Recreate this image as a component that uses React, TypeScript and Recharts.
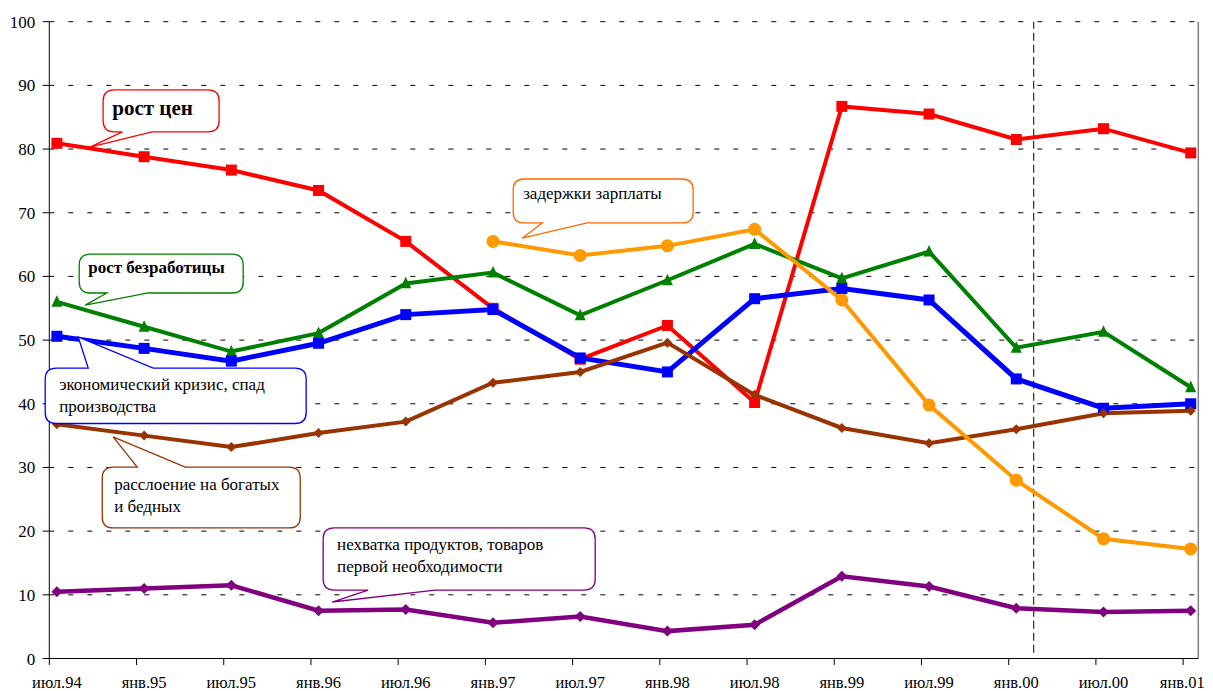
import React from 'react';
import { LineChart, Line, XAxis, YAxis, CartesianGrid, ReferenceLine } from 'recharts';

// ---------- data ----------
const periods = ['июл.94', 'янв.95', 'июл.95', 'янв.96', 'июл.96', 'янв.97', 'июл.97', 'янв.98', 'июл.98', 'янв.99', 'июл.99', 'янв.00', 'июл.00', 'янв.01'];
const priceGrowth = [80.9, 78.8, 76.7, 73.5, 65.5, 55.0, 47.0, 52.3, 40.2, 86.7, 85.5, 81.5, 83.2, 79.4];
const unemployment = [56.0, 52.1, 48.2, 51.1, 58.9, 60.6, 53.9, 59.4, 65.1, 59.7, 63.9, 48.8, 51.3, 42.6];
const crisis = [50.6, 48.7, 46.7, 49.5, 54.0, 54.8, 47.2, 45.0, 56.5, 58.1, 56.3, 43.9, 39.3, 40.0];
const inequality = [36.8, 35.0, 33.2, 35.4, 37.2, 43.3, 45.0, 49.6, 41.4, 36.2, 33.8, 36.0, 38.5, 38.9];
const wageArrears = [null, null, null, null, null, 65.5, 63.3, 64.8, 67.4, 56.3, 39.8, 28.0, 18.8, 17.2];
const shortage = [10.5, 11.0, 11.5, 7.5, 7.7, 5.6, 6.6, 4.3, 5.3, 12.9, 11.3, 7.9, 7.3, 7.5];
const yTicks = [0, 10, 20, 30, 40, 50, 60, 70, 80, 90, 100];
const markerLineX = 11.2;

const data = periods.map((p, i) => ({
  x: i,
  label: p,
  price: priceGrowth[i],
  unemp: unemployment[i],
  crisis: crisis[i],
  ineq: inequality[i],
  wage: wageArrears[i],
  short: shortage[i],
}));

// ---------- layout ----------
const W = 1197;
const H = 683;
const PAD = 0.087;
const M_TOP = 13.7;
const Y_AXIS_W = 41.3;
const X_AXIS_H = 32.5;
const M_RIGHT = 6.7;
const PLOT_W = W - Y_AXIS_W - M_RIGHT;
const PLOT_H = H - M_TOP - X_AXIS_H;
const UX = PLOT_W / (periods.length - 1 + 2 * PAD);
const UY = PLOT_H / 100;
const px = (xi: number) => Y_AXIS_W + (xi + PAD) * UX;
const py = (v: number) => M_TOP + (100 - v) * UY;

const FONT = "'Liberation Serif', Tinos, 'DejaVu Serif', 'Noto Serif', 'Times New Roman', serif";
const fontStyle = { fontFamily: FONT };

const RED = '#FF0000';
const GREEN = '#008000';
const BLUE = '#0000FF';
const BROWN = '#993300';
const ORANGE = '#FF9900';
const PURPLE = '#800080';

// ---------- markers ----------
const square = (color: string, s: number) => (props: any) => {
  const { cx, cy, index } = props;
  if (cx == null || cy == null) return <g key={index} />;
  return <rect key={index} x={cx - s / 2} y={cy - s / 2} width={s} height={s} fill={color} />;
};
const triangle = (color: string, s: number) => (props: any) => {
  const { cx, cy, index } = props;
  if (cx == null || cy == null) return <g key={index} />;
  return <polygon key={index} points={`${cx},${cy - s * 0.6} ${cx - s / 2},${cy + s * 0.45} ${cx + s / 2},${cy + s * 0.45}`} fill={color} />;
};
const circle = (color: string, r: number) => (props: any) => {
  const { cx, cy, index } = props;
  if (cx == null || cy == null) return <g key={index} />;
  return <circle key={index} cx={cx} cy={cy} r={r} fill={color} />;
};
const diamond = (color: string, s: number) => (props: any) => {
  const { cx, cy, index } = props;
  if (cx == null || cy == null) return <g key={index} />;
  return <polygon key={index} points={`${cx},${cy - s} ${cx + s},${cy} ${cx},${cy + s} ${cx - s},${cy}`} fill={color} />;
};

// ---------- ticks ----------
const XTick = (props: any) => {
  const { x, y, payload } = props;
  const off = PAD * UX;
  const isLast = payload.value === periods.length - 1;
  return (
    <g>
      <line x1={x - off} x2={x - off} y1={y} y2={y + 6.5} stroke="#000" strokeWidth={1} />
      <text
        x={isLast ? x + 14 : x}
        y={y + 29.5}
        textAnchor={isLast ? 'end' : 'middle'}
        style={fontStyle}
        fontSize={16.5}
        fill="#000"
      >
        {periods[payload.value]}
      </text>
    </g>
  );
};
const YTick = (props: any) => {
  const { x, y, payload } = props;
  return (
    <g>
      <line x1={x - 6.6} x2={x} y1={y} y2={y} stroke="#000" strokeWidth={1} />
      <text x={x - 14} y={y + 6} textAnchor="end" style={fontStyle} fontSize={17} fill="#000">
        {payload.value}
      </text>
    </g>
  );
};

// ---------- callouts (in data units) ----------
type Callout = {
  color: string;
  box: [number, number, number, number];
  side: 'top' | 'bottom';
  base: [number, number];
  tip: [number, number];
  lines: string[];
  textX: number;
  baselines: number[];
  bold?: boolean;
  size: number;
};

const callouts: Callout[] = [
  { color: RED, box: [0.53, 89.3, 1.86, 82.7], side: 'bottom', base: [0.75, 1.09], tip: [0.38, 80.3], lines: ['рост цен'], textX: 0.635, baselines: [85.4], bold: true, size: 21 },
  { color: GREEN, box: [0.256, 63.5, 2.136, 57.4], side: 'bottom', base: [0.573, 1.047], tip: [0.325, 55.5], lines: ['рост безработицы'], textX: 0.359, baselines: [60.5], bold: true, size: 17 },
  { color: BLUE, box: [-0.134, 45.6, 2.858, 36.9], side: 'top', base: [0.359, 1.104], tip: [0.244, 50.5], lines: ['экономический кризис, спад', 'производства'], textX: 0.026, baselines: [42.15, 38.7], size: 17 },
  { color: BROWN, box: [0.52, 30.06, 2.79, 20.5], side: 'top', base: [0.921, 1.471], tip: [0.645, 34.8], lines: ['расслоение на богатых', 'и бедных'], textX: 0.657, baselines: [26.45, 23.0], size: 17 },
  { color: PURPLE, box: [3.053, 20.5, 6.172, 10.75], side: 'bottom', base: [3.569, 4.337], tip: [3.156, 8.87], lines: ['нехватка продуктов, товаров', 'первой необходимости'], textX: 3.213, baselines: [17.03, 13.6], size: 17 },
  { color: '#FF6600', box: [5.232, 75.3, 7.295, 68.4], side: 'bottom', base: [5.564, 6.08], tip: [5.335, 66.0], lines: ['задержки зарплаты'], textX: 5.346, baselines: [72.1], size: 17 },
];

const calloutPath = (c: Callout) => {
  const x1 = px(c.box[0]);
  const y1 = py(c.box[1]);
  const x2 = px(c.box[2]);
  const y2 = py(c.box[3]);
  const r = 11;
  const b1 = px(c.base[0]);
  const b2 = px(c.base[1]);
  const tx = px(c.tip[0]);
  const ty = py(c.tip[1]);
  let d = `M ${x1 + r} ${y1}`;
  if (c.side === 'top') d += ` L ${b1} ${y1} L ${tx} ${ty} L ${b2} ${y1}`;
  d += ` L ${x2 - r} ${y1} Q ${x2} ${y1} ${x2} ${y1 + r}`;
  d += ` L ${x2} ${y2 - r} Q ${x2} ${y2} ${x2 - r} ${y2}`;
  if (c.side === 'bottom') d += ` L ${b2} ${y2} L ${tx} ${ty} L ${b1} ${y2}`;
  d += ` L ${x1 + r} ${y2} Q ${x1} ${y2} ${x1} ${y2 - r}`;
  d += ` L ${x1} ${y1 + r} Q ${x1} ${y1} ${x1 + r} ${y1} Z`;
  return d;
};

const Callouts = () => (
  <svg width={W} height={H} style={{ position: 'absolute', left: 0, top: 0, pointerEvents: 'none' }}>
    {callouts.map((c, i) => (
      <g key={i}>
        <path d={calloutPath(c)} fill="#fff" stroke={c.color} strokeWidth={1.3} strokeLinejoin="miter" />
        {c.lines.map((t, j) => (
          <text key={j} x={px(c.textX)} y={py(c.baselines[j])} style={fontStyle} fontSize={c.size} fontWeight={c.bold ? 'bold' : 'normal'} fill="#000">
            {t}
          </text>
        ))}
      </g>
    ))}
  </svg>
);

export default function App() {
  return (
    <div style={{ position: 'relative', width: W, height: H, background: '#fff', fontFamily: FONT }}>
      <LineChart width={W} height={H} data={data} margin={{ top: M_TOP, right: M_RIGHT, left: 0, bottom: 0 }}>
        <CartesianGrid horizontal vertical={false} stroke="#000" strokeDasharray="5 14" strokeWidth={1} />
        <XAxis
          dataKey="x"
          type="number"
          domain={[-PAD, periods.length - 1 + PAD]}
          ticks={periods.map((_, i) => i)}
          interval={0}
          height={X_AXIS_H}
          tickSize={0}
          tickMargin={0}
          tickLine={false}
          tick={<XTick />}
          axisLine={{ stroke: '#000', strokeWidth: 1 }}
          allowDataOverflow
        />
        <YAxis
          type="number"
          domain={[0, 100]}
          ticks={yTicks}
          interval={0}
          width={Y_AXIS_W}
          tickSize={0}
          tickMargin={0}
          tickLine={false}
          tick={<YTick />}
          axisLine={{ stroke: '#000', strokeWidth: 1 }}
          allowDataOverflow
        />
        <ReferenceLine x={periods.length - 1 + PAD} stroke="#808080" strokeWidth={1.5} ifOverflow="visible" />
        <ReferenceLine
          segment={[{ x: markerLineX, y: 0.9 }, { x: markerLineX, y: 100 }]}
          stroke="#000"
          strokeDasharray="8 4"
          strokeWidth={1}
        />
        <Line dataKey="price" stroke={RED} strokeWidth={4} dot={square(RED, 11)} isAnimationActive={false} />
        <Line dataKey="unemp" stroke={GREEN} strokeWidth={4} dot={triangle(GREEN, 11)} isAnimationActive={false} />
        <Line dataKey="crisis" stroke={BLUE} strokeWidth={5} dot={square(BLUE, 11)} isAnimationActive={false} />
        <Line dataKey="ineq" stroke={BROWN} strokeWidth={4} dot={diamond(BROWN, 5)} isAnimationActive={false} />
        <Line dataKey="wage" stroke={ORANGE} strokeWidth={4} dot={circle(ORANGE, 6.5)} isAnimationActive={false} />
        <Line dataKey="short" stroke={PURPLE} strokeWidth={4.5} dot={diamond(PURPLE, 5.5)} isAnimationActive={false} />
      </LineChart>
      <Callouts />
    </div>
  );
}
